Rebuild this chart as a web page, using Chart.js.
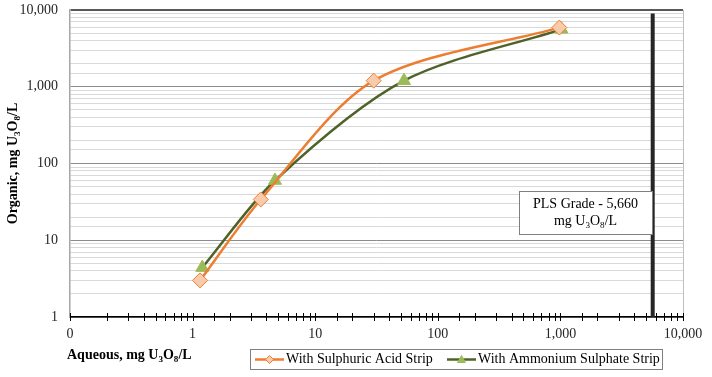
<!DOCTYPE html>
<html>
<head>
<meta charset="utf-8">
<script src="https://cdn.jsdelivr.net/npm/chart.js@4/dist/chart.umd.min.js"></script>
<style>
  body { margin: 0; background: #fff; }
  #wrap { width: 712px; height: 377px; position: relative; }
</style>
</head>
<body>
<div id="wrap"><canvas id="chartContainer"></canvas></div>
<script>
"use strict";

// 1: data
const aqueousSulphuric = [1.15, 3.6, 30, 980];
const organicSulphuric = [3.0, 34, 1200, 5900];
const aqueousAmmonium = [1.2, 4.7, 53, 1020];
const organicAmmonium = [4.4, 60, 1200, 5600];
const plsGrade = 5660;
const plsLineY = [1, 9000];
const xTickLabels = ['0', '1', '10', '100', '1,000', '10,000'];   // 0.1 .. 10000
const yTickLabels = ['1', '10', '100', '1,000', '10,000'];        // 1 .. 10000
const seriesNames = ['With Sulphuric Acid Strip', 'With Ammonium Sulphate Strip'];

const SERIF = '"Liberation Serif", "Times New Roman", serif';

function toPoints(xs, ys) {
  return xs.map((x, i) => ({ x: x, y: ys[i] }));
}
function isPow10(v) {
  const l = Math.log10(v);
  return Math.abs(l - Math.round(l)) < 1e-9;
}

// text with subscript parts: [[text, isSub], ...]
function runsWidth(ctx, runs, size, bold) {
  let w = 0;
  for (const r of runs) {
    ctx.font = (bold ? 'bold ' : '') + (r[1] ? size * 0.65 : size) + 'px ' + SERIF;
    w += ctx.measureText(r[0]).width;
  }
  return w;
}
function drawRuns(ctx, runs, x, y, size, bold) {
  ctx.textBaseline = 'middle';
  ctx.textAlign = 'left';
  for (const r of runs) {
    ctx.font = (bold ? 'bold ' : '') + (r[1] ? size * 0.65 : size) + 'px ' + SERIF;
    ctx.fillText(r[0], x, r[1] ? y + size * 0.3 : y);
    x += ctx.measureText(r[0]).width;
  }
}
const unitRuns = [['U', 0], ['3', 1], ['O', 0], ['8', 1], ['/L', 0]];

// 2: extra drawing (axis titles, x tick marks, PLS box, legend)
const extras = {
  id: 'extras',
  afterDraw(chart) {
    const ctx = chart.ctx;
    const area = chart.chartArea;
    const xs = chart.scales.x;
    ctx.save();

    // right border
    ctx.strokeStyle = '#bfbfbf';
    ctx.lineWidth = 1;
    ctx.beginPath();
    ctx.moveTo(area.right + 0.5, area.top);
    ctx.lineTo(area.right + 0.5, area.bottom);
    ctx.stroke();

    // x axis tick marks crossing the axis
    ctx.strokeStyle = '#000';
    ctx.lineWidth = 1;
    for (const t of xs.ticks) {
      const px = Math.round(xs.getPixelForValue(t.value)) + 0.5;
      ctx.beginPath();
      ctx.moveTo(px, area.bottom - 4);
      ctx.lineTo(px, area.bottom + 4);
      ctx.stroke();
    }

    // y title
    ctx.fillStyle = '#000';
    const yRuns = [['Organic, mg ', 0]].concat(unitRuns);
    const yw = runsWidth(ctx, yRuns, 14, true);
    ctx.save();
    ctx.translate(13, (area.top + area.bottom) / 2);
    ctx.rotate(-Math.PI / 2);
    drawRuns(ctx, yRuns, -yw / 2, 0, 14, true);
    ctx.restore();

    // x title
    drawRuns(ctx, [['Aqueous, mg ', 0]].concat(unitRuns), 67, 355, 14, true);

    // PLS box
    const bx = 519, by = 191, bw = 133, bh = 43;
    ctx.fillStyle = '#fff';
    ctx.fillRect(bx, by, bw, bh);
    ctx.strokeStyle = '#7f7f7f';
    ctx.strokeRect(bx + 0.5, by + 0.5, bw, bh);
    ctx.fillStyle = '#000';
    const l1 = [['PLS Grade - 5,660', 0]];
    const l2 = [['mg ', 0]].concat(unitRuns);
    drawRuns(ctx, l1, bx + (bw - runsWidth(ctx, l1, 14)) / 2, by + 13, 14);
    drawRuns(ctx, l2, bx + (bw - runsWidth(ctx, l2, 14)) / 2, by + 30, 14);

    // legend
    const lx = 250, ly = 349, lw = 412, lh = 20;
    ctx.strokeStyle = '#7f7f7f';
    ctx.strokeRect(lx + 0.5, ly + 0.5, lw, lh);
    const cy = ly + lh / 2 + 0.5;
    const starts = [255, 447];
    chart.data.datasets.slice(0, 2).forEach((ds, i) => {
      const x0 = starts[i];
      ctx.strokeStyle = ds.borderColor;
      ctx.lineWidth = 2.5;
      ctx.beginPath();
      ctx.moveTo(x0, cy);
      ctx.lineTo(x0 + 29, cy);
      ctx.stroke();
      ctx.fillStyle = ds.pointBackgroundColor;
      ctx.strokeStyle = ds.pointBorderColor;
      ctx.lineWidth = 1;
      const mx = x0 + 14.5;
      ctx.beginPath();
      if (i === 0) {
        ctx.moveTo(mx, cy - 4); ctx.lineTo(mx + 4, cy); ctx.lineTo(mx, cy + 4); ctx.lineTo(mx - 4, cy);
      } else {
        ctx.moveTo(mx, cy - 4); ctx.lineTo(mx + 4, cy + 3); ctx.lineTo(mx - 4, cy + 3);
      }
      ctx.closePath();
      ctx.fill();
      ctx.stroke();
      ctx.fillStyle = '#000';
      drawRuns(ctx, [[seriesNames[i], 0]], x0 + 31, cy, 14);
    });

    ctx.restore();
  }
};

// 3: create the chart
const chart = new Chart(document.getElementById('chartContainer'), {
  type: 'scatter',
  data: {
    datasets: [{
      label: seriesNames[0],
      data: toPoints(aqueousSulphuric, organicSulphuric),
      showLine: true,
      tension: 0.3,
      borderColor: '#ED7D31',
      borderWidth: 2.5,
      pointStyle: 'rectRot',
      pointRadius: 7.5,
      pointHoverRadius: 7.5,
      pointBackgroundColor: '#F8CBAD',
      pointBorderColor: '#ED7D31',
      pointBorderWidth: 1
    }, {
      label: seriesNames[1],
      data: toPoints(aqueousAmmonium, organicAmmonium),
      showLine: true,
      tension: 0.3,
      borderColor: '#4F6228',
      borderWidth: 2.5,
      pointStyle: 'triangle',
      pointRadius: 7.5,
      pointHoverRadius: 7.5,
      pointBackgroundColor: '#9BBB59',
      pointBorderColor: '#9BBB59',
      pointBorderWidth: 1
    }, {
      label: 'PLS Grade',
      data: toPoints([plsGrade, plsGrade], plsLineY),
      showLine: true,
      borderColor: '#262626',
      borderWidth: 4,
      pointRadius: 0,
      pointHoverRadius: 0
    }]
  },
  options: {
    responsive: true,
    maintainAspectRatio: false,
    animation: false,
    layout: { padding: { left: 0, top: 10, right: 29, bottom: 0 } },
    plugins: {
      legend: { display: false },
      tooltip: { enabled: false }
    },
    scales: {
      x: {
        type: 'logarithmic',
        min: 0.1,
        max: 10000,
        afterFit: (s) => { s.height = 60; s.paddingLeft = 0; s.paddingRight = 0; },
        border: { display: true, color: '#000', width: 1.5 },
        grid: { drawOnChartArea: false, drawTicks: false },
        ticks: {
          autoSkip: false,
          maxRotation: 0,
          padding: 9,
          color: '#262626',
          font: { family: SERIF, size: 14 },
          callback: (v) => isPow10(v) ? xTickLabels[Math.round(Math.log10(v)) + 1] : ''
        }
      },
      y: {
        type: 'logarithmic',
        min: 1,
        max: 10000,
        afterFit: (s) => { s.width = 70; s.paddingTop = 0; s.paddingBottom = 0; },
        border: { display: true, color: '#a6a6a6', width: 1.5 },
        grid: {
          drawTicks: false,
          color: (c) => {
            if (!c.tick) return '#d9d9d9';
            if (c.tick.value === 10000) return '#595959';
            return isPow10(c.tick.value) ? '#8c8c8c' : '#d9d9d9';
          },
          lineWidth: (c) => (c.tick && c.tick.value === 10000) ? 2 : 1
        },
        ticks: {
          autoSkip: false,
          padding: 12,
          color: '#262626',
          font: { family: SERIF, size: 14 },
          callback: (v) => isPow10(v) ? yTickLabels[Math.round(Math.log10(v))] : ''
        }
      }
    }
  },
  plugins: [extras]
});
</script>
</body>
</html>
